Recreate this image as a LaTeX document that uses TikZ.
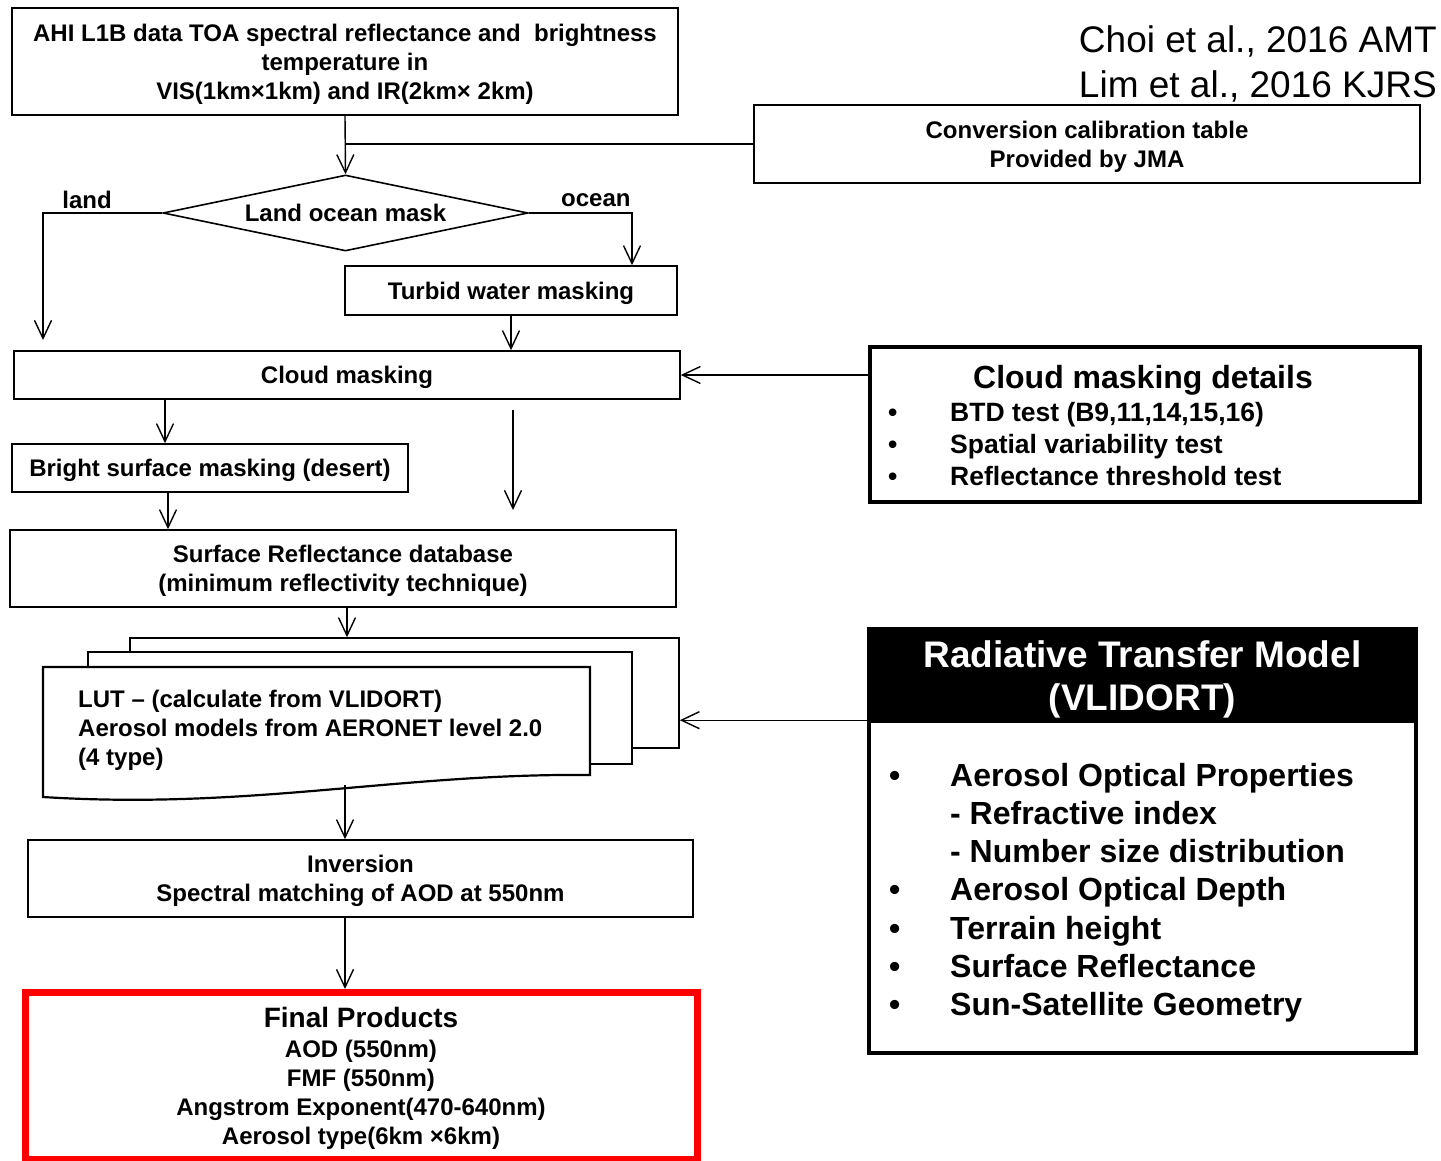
\documentclass[tikz,border=0pt]{standalone}
\usepackage{fontspec}
\setmainfont{Liberation Sans}
\usetikzlibrary{arrows.meta,shapes.geometric}

\begin{document}
\begin{tikzpicture}[x=1pt, y=-1pt, >={Straight Barb[length=18pt,width=17pt]},
 every node/.style={align=center, font=\bfseries\fontsize{24}{29}\selectfont},
 box/.style={draw, line width=1.6pt, inner sep=0pt, text depth=0pt},
 thickbox/.style={draw, line width=3.5pt, inner sep=0pt},
 arr/.style={->, line width=1.4pt}]
\useasboundingbox (0,0) rectangle (1441,1161);
% main flow
\node[box, minimum width=666pt, minimum height=107pt] (ahi) at (345,61.5)
 {AHI L1B data TOA spectral reflectance and\ \ brightness\\temperature in\\VIS(1km×1km) and IR(2km× 2km)};
\node[box, minimum width=666pt, minimum height=78pt] (calib) at (1087,144)
 {Conversion calibration table\\Provided by JMA};
\node[draw, diamond, aspect=4.8, line width=1.6pt, minimum width=365pt, minimum height=76pt, inner sep=0pt] (mask) at (345.5,213) {Land ocean mask};
\node[box, minimum width=332pt, minimum height=49pt] (turbid) at (511,290.5) {Turbid water masking};
\node[box, minimum width=666pt, minimum height=48pt] (cloud) at (347,375) {Cloud masking};
\node[box, minimum width=396pt, minimum height=48pt] (bright) at (210,468) {Bright surface masking (desert)};
\node[box, minimum width=666pt, minimum height=77pt] (surf) at (343,568.5)
 {Surface Reflectance database\\(minimum reflectivity technique)};
% LUT stack
\node[box, fill=white, minimum width=549pt, minimum height=110pt] (lutback) at (404.5,693) {};
\node[box, fill=white, minimum width=544pt, minimum height=112pt] (lutmid) at (360,708) {};
\draw[line width=2.2pt, fill=white] (43,667) -- (590,667) -- (590,775)
 .. controls (400,773) and (250,810) .. (43,797) -- cycle;
\node[anchor=west, align=left, inner sep=0pt] (luttext) at (78,730)
 {LUT – (calculate from VLIDORT)\\Aerosol models from AERONET level 2.0\\(4 type)};
\node[box, minimum width=665pt, minimum height=77pt] (inv) at (360.5,878.5)
 {Inversion\\Spectral matching of AOD at 550nm};
\node[draw=red, line width=7pt, minimum width=672pt, minimum height=167pt, inner sep=0pt, text depth=0pt] (final) at (361,1076)
 {{\fontsize{28}{32}\selectfont Final Products}\\[1pt]AOD (550nm)\\FMF (550nm)\\Angstrom Exponent(470-640nm)\\Aerosol type(6km ×6km)};
% side boxes
\node[thickbox, minimum width=550pt, minimum height=155pt] (details) at (1145,424.5) {};
\node[text depth=0pt, font=\bfseries\fontsize{32}{38}\selectfont] (detailstitle) at (1143,377) {Cloud masking details};
\node[anchor=north west, inner sep=0pt, font=\bfseries\fontsize{26.5}{32}\selectfont] (detailsitems) at (888,399)
 {\begin{tabular}{@{}p{62pt}@{}l@{}}•&BTD test (B9,11,14,15,16)\\•&Spatial variability test\\•&Reflectance threshold test\end{tabular}};
\node[thickbox, minimum width=547pt, minimum height=424pt] (rtm) at (1142.5,841) {};
\node[fill=black, text=white, minimum width=547pt, minimum height=94pt, inner sep=0pt, text depth=0pt,
 font=\bfseries\fontsize{37}{43}\selectfont] (rtmhead) at (1142.5,676) {Radiative Transfer Model\\(VLIDORT)};
\node[anchor=north west, inner sep=0pt, font=\bfseries\fontsize{32}{38.3}\selectfont] (rtmitems) at (889,759)
 {\begin{tabular}{@{}p{61pt}@{}l@{}}•&Aerosol Optical Properties\\&- Refractive index\\&- Number size distribution\\
 •&Aerosol Optical Depth\\•&Terrain height\\•&Surface Reflectance\\•&Sun-Satellite Geometry\end{tabular}};
\node[anchor=east, align=right, inner sep=0pt, font=\fontsize{37}{45}\selectfont] (refs) at (1437,63.5)
 {Choi et al., 2016 AMT\\Lim et al., 2016 KJRS};
% connectors
\coordinate (landturn) at (43,213);
\coordinate (landend) at (43,340);
\coordinate (oceanturn) at (632,213);
\coordinate (skipa) at (513,410);
\coordinate (skipb) at (513,510);
\coordinate (lutout) at (345,785);
\draw[arr] (ahi.south) -- (mask.north);
\draw[line width=1.4pt] (calib.west) -- (calib.west -| ahi.south);
\draw[arr] (mask.west) -- node[above, pos=.63, inner sep=4pt] (landlbl) {land} (landturn) -- (landend);
\draw[arr] (mask.east) -- node[above, pos=.65, inner sep=6pt] (oceanlbl) {ocean} (oceanturn) -- (oceanturn |- turbid.north);
\draw[arr] (turbid.south) -- (turbid.south |- cloud.north);
\draw[arr] (details.west |- cloud.east) -- (cloud.east);
\draw[arr] ([xshift=-45pt]bright.north |- cloud.south) -- ([xshift=-45pt]bright.north);
\draw[arr] (skipa) -- (skipb);
\draw[arr] ([xshift=-42pt]bright.south) -- ([xshift=-42pt]bright.south |- surf.north);
\draw[arr] ([xshift=4pt]surf.south) -- ([xshift=4pt]surf.south |- lutback.north);
\draw[arr] ([yshift=3pt]rtmhead.south west) -- ([yshift=3pt]rtmhead.south west -| lutback.east);
\draw[arr] (lutout) -- (lutout |- inv.north);
\draw[arr] (lutout |- inv.south) -- (lutout |- final.north);
\end{tikzpicture}
\end{document}
